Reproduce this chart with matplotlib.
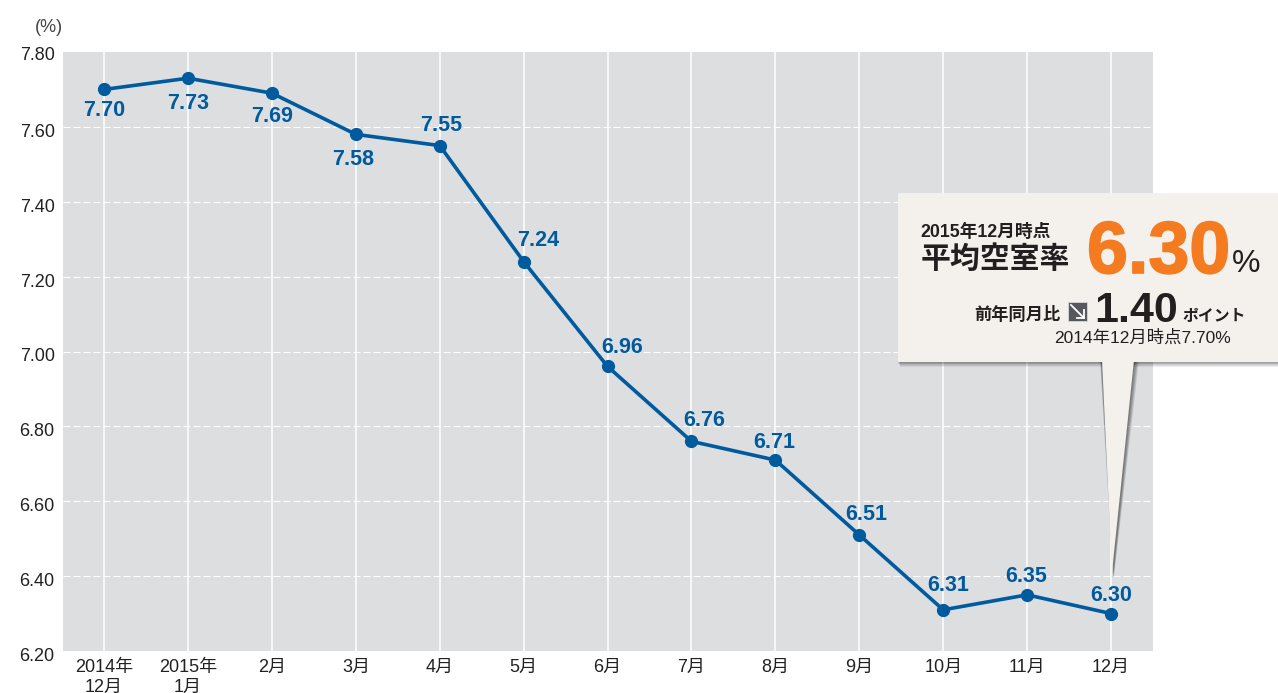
import matplotlib
matplotlib.use('Agg')
import matplotlib.pyplot as plt
import matplotlib.patheffects as pe
from matplotlib.patches import Polygon, Rectangle
from matplotlib.transforms import ScaledTranslation

plt.rcParams['font.family'] = ['Liberation Sans', 'Noto Sans CJK JP']

months = ['2014年\n12月', '2015年\n1月', '2月', '3月', '4月', '5月', '6月', '7月', '8月', '9月', '10月', '11月', '12月']
vacancy = [7.70, 7.73, 7.69, 7.58, 7.55, 7.24, 6.96, 6.76, 6.71, 6.51, 6.31, 6.35, 6.30]
y_ticks = [6.20, 6.40, 6.60, 6.80, 7.00, 7.20, 7.40, 7.60, 7.80]
# label offset in pixels, below the marker for the first few months
label_dy = [-21, -25, -23, -25, 20, 21, 19, 21, 18, 20, 24, 18, 18]
label_dx = [0, 0, 0, -3, 1, 15, 15, 13, -1, 7, 5, -1, 0]

BLUE = '#005a9e'
DARK = '#231f20'
W, H = 1278, 693

fig = plt.figure(figsize=(W / 100, H / 100), dpi=100)
ax = fig.add_axes([63 / W, 1 - 651 / H, 1090 / W, 599 / H])
ax.set_facecolor('#dcdee0')
ax.set_xlim(-0.49, 12.5)
ax.set_ylim(6.205, 7.80)
for s in ax.spines.values():
    s.set_visible(False)

x = list(range(len(months)))
ax.set_xticks(x)
ax.set_xticklabels(months, fontsize=13, color='#222222', linespacing=1.2, va='top')
ax.set_yticks(y_ticks)
ax.set_yticklabels(['%.2f' % v for v in y_ticks], fontsize=13, color='#222222')
ax.tick_params(length=0)
ax.tick_params(axis='x', pad=6)
ax.tick_params(axis='y', pad=6)
# the value labels sit a little under their gridlines
shift = ScaledTranslation(0, -2.5 / 72, fig.dpi_scale_trans)
for lab in ax.get_yticklabels():
    lab.set_transform(lab.get_transform() + shift)
ax.get_yticklabels()[-1].set_transform(ax.get_yticklabels()[0].get_transform()
                                       + ScaledTranslation(0, 1.5 / 72, fig.dpi_scale_trans))
ax.set_axisbelow(True)
ax.grid(axis='x', color='white', lw=1.1)
ax.grid(axis='y', color='white', lw=0.8, dashes=(6.3, 2.7))
for g in (ax.get_ygridlines()[0], ax.get_ygridlines()[-1]):
    g.set_visible(False)

ax.plot(x, vacancy, color=BLUE, lw=2.6, marker='o', ms=8.5, clip_on=False)
for i, v in enumerate(vacancy):
    ax.annotate('%.2f' % v, (i, v), xytext=(label_dx[i], label_dy[i]), textcoords='offset pixels',
                ha='center', va='center', fontsize=15.5, fontweight='bold', color=BLUE)

# overlay in pixel coordinates for the callout and the unit
ov = fig.add_axes([0, 0, 1, 1])
ov.set_xlim(0, W)
ov.set_ylim(H, 0)
ov.axis('off')
ov.text(49, 27, '(%)', ha='center', va='center', fontsize=13, color='#444444')

# soft shadow under the box and its pointer
for k in range(6):
    ov.add_patch(Rectangle((898 + k * 0.4, 194), 390, 169 + k * 0.7, fc='black', alpha=0.07, ec='none'))
for k in range(5):
    ov.add_patch(Polygon([(1100 + k * 0.3, 360), (1135 + k, 360), (1113 + k * 0.2, 578)], fc='black', alpha=0.11, ec='none'))
ov.add_patch(Polygon([(1102, 360), (1134, 360), (1112, 572)], fc='#f4f0eb', ec='none'))
ov.add_patch(Rectangle((898, 193), 385, 169, fc='#f4f0eb', ec='none'))

ov.text(920, 232, '2015年12月時点', fontsize=12.8, fontweight='bold', color=DARK, va='center')
ov.text(921, 260, '平均空室率', fontsize=21.5, fontweight='bold', color=DARK, va='center')
ov.text(1087, 273, '6.30', fontsize=53, fontweight='bold', color='#f47b20', va='baseline',
        path_effects=[pe.withStroke(linewidth=1.2, foreground='#f47b20')])
ov.text(1232, 272, '%', fontsize=23, color=DARK, va='baseline')
ov.text(974, 314, '前年同月比', fontsize=12.4, fontweight='bold', color=DARK, va='center')

# down-right arrow icon
ov.add_patch(Rectangle((1068, 302), 19, 19, fc='#55585c', ec='#d8d8d8', lw=0.6))
ov.plot([1071, 1084], [305, 318], color='white', lw=1.3)
ov.plot([1084, 1084, 1077], [310, 318, 318], color='white', lw=1.3)

ov.text(1094, 322, '1.40', fontsize=31, fontweight='bold', color=DARK, va='baseline')
ov.text(1182, 316, 'ポイント', fontsize=11.4, fontweight='bold', color=DARK, va='center')
ov.text(1054, 338, '2014年12月時点7.70%', fontsize=12.5, color=DARK, va='center')

fig.savefig('out.png', dpi=100)
